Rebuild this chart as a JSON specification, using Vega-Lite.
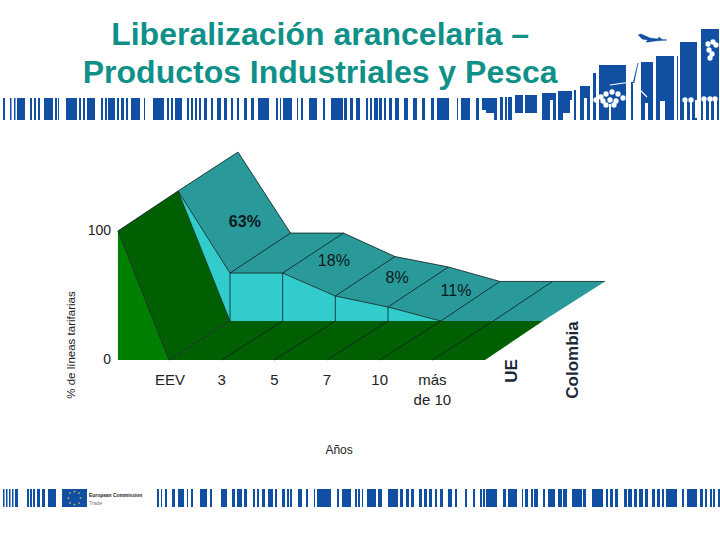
{
  "$schema": "https://vega.github.io/schema/vega-lite/v6.json",
  "width": 720,
  "height": 540,
  "padding": 0,
  "autosize": {"type": "fit", "contains": "padding"},
  "background": "white",
  "config": {"view": {"stroke": null}},
  "resolve": {"scale": {"x": "independent", "y": "independent"}},
  "datasets": {
    "faces": [
      {"face": "g1", "kind": "green", "n": 1, "x": 0.03, "y": 100},
      {"face": "g1", "kind": "green", "n": 2, "x": 1, "y": 0},
      {"face": "g1", "kind": "green", "n": 3, "x": 0.03, "y": 0},
      {"face": "d1", "kind": "dark", "n": 1, "x": 0.03, "y": 100},
      {"face": "d1", "kind": "dark", "n": 2, "x": 1.171, "y": 131},
      {"face": "d1", "kind": "dark", "n": 3, "x": 2.158, "y": 30.2},
      {"face": "d1", "kind": "dark", "n": 4, "x": 1, "y": 0},
      {"face": "d2", "kind": "dark", "n": 1, "x": 1, "y": 0},
      {"face": "d2", "kind": "dark", "n": 2, "x": 2.158, "y": 30.2},
      {"face": "d2", "kind": "dark", "n": 3, "x": 8.1, "y": 30.2},
      {"face": "d2", "kind": "dark", "n": 4, "x": 7, "y": 0},
      {"face": "c1", "kind": "cyan", "n": 1, "x": 1.171, "y": 131},
      {"face": "c1", "kind": "cyan", "n": 2, "x": 2.158, "y": 67.4},
      {"face": "c1", "kind": "cyan", "n": 3, "x": 3.158, "y": 67.4},
      {"face": "c1", "kind": "cyan", "n": 4, "x": 4.158, "y": 49.6},
      {"face": "c1", "kind": "cyan", "n": 5, "x": 5.158, "y": 41.1},
      {"face": "c1", "kind": "cyan", "n": 6, "x": 6.158, "y": 30.2},
      {"face": "c1", "kind": "cyan", "n": 7, "x": 2.158, "y": 30.2},
      {"face": "t1", "kind": "teal", "n": 1, "x": 1.171, "y": 131},
      {"face": "t1", "kind": "teal", "n": 2, "x": 2.31, "y": 161.2},
      {"face": "t1", "kind": "teal", "n": 3, "x": 3.307, "y": 98.4},
      {"face": "t1", "kind": "teal", "n": 4, "x": 4.313, "y": 98.4},
      {"face": "t1", "kind": "teal", "n": 5, "x": 5.291, "y": 80.2},
      {"face": "t1", "kind": "teal", "n": 6, "x": 6.307, "y": 72.1},
      {"face": "t1", "kind": "teal", "n": 7, "x": 7.284, "y": 60.9},
      {"face": "t1", "kind": "teal", "n": 8, "x": 9.278, "y": 60.9},
      {"face": "t1", "kind": "teal", "n": 9, "x": 8.1, "y": 30.2},
      {"face": "t1", "kind": "teal", "n": 10, "x": 6.158, "y": 30.2},
      {"face": "t1", "kind": "teal", "n": 11, "x": 5.158, "y": 41.1},
      {"face": "t1", "kind": "teal", "n": 12, "x": 4.158, "y": 49.6},
      {"face": "t1", "kind": "teal", "n": 13, "x": 3.158, "y": 67.4},
      {"face": "t1", "kind": "teal", "n": 14, "x": 2.158, "y": 67.4}
    ],
    "edges": [
      {"edge": "top", "n": 1, "x": 0.03, "y": 100},
      {"edge": "top", "n": 2, "x": 1.171, "y": 131},
      {"edge": "top", "n": 3, "x": 2.31, "y": 161.2},
      {"edge": "top", "n": 4, "x": 3.307, "y": 98.4},
      {"edge": "top", "n": 5, "x": 4.313, "y": 98.4},
      {"edge": "top", "n": 6, "x": 5.291, "y": 80.2},
      {"edge": "top", "n": 7, "x": 6.307, "y": 72.1},
      {"edge": "top", "n": 8, "x": 7.284, "y": 60.9},
      {"edge": "top", "n": 9, "x": 9.278, "y": 60.9},
      {"edge": "left", "n": 1, "x": 0.03, "y": 100},
      {"edge": "left", "n": 2, "x": 1, "y": 0},
      {"edge": "a", "n": 1, "x": 1.171, "y": 131},
      {"edge": "a", "n": 2, "x": 2.158, "y": 30.2},
      {"edge": "b", "n": 1, "x": 1.171, "y": 131},
      {"edge": "b", "n": 2, "x": 2.158, "y": 67.4},
      {"edge": "b", "n": 3, "x": 3.158, "y": 67.4},
      {"edge": "b", "n": 4, "x": 4.158, "y": 49.6},
      {"edge": "b", "n": 5, "x": 5.158, "y": 41.1},
      {"edge": "b", "n": 6, "x": 6.158, "y": 30.2},
      {"edge": "v1", "n": 1, "x": 2.158, "y": 67.4},
      {"edge": "v1", "n": 2, "x": 2.158, "y": 30.2},
      {"edge": "v2", "n": 1, "x": 3.158, "y": 67.4},
      {"edge": "v2", "n": 2, "x": 3.158, "y": 30.2},
      {"edge": "v3", "n": 1, "x": 4.158, "y": 49.6},
      {"edge": "v3", "n": 2, "x": 4.158, "y": 30.2},
      {"edge": "v4", "n": 1, "x": 5.158, "y": 41.1},
      {"edge": "v4", "n": 2, "x": 5.158, "y": 30.2},
      {"edge": "s1", "n": 1, "x": 2.158, "y": 67.4},
      {"edge": "s1", "n": 2, "x": 3.307, "y": 98.4},
      {"edge": "s2", "n": 1, "x": 3.158, "y": 67.4},
      {"edge": "s2", "n": 2, "x": 4.313, "y": 98.4},
      {"edge": "s3", "n": 1, "x": 4.158, "y": 49.6},
      {"edge": "s3", "n": 2, "x": 5.291, "y": 80.2},
      {"edge": "s4", "n": 1, "x": 5.158, "y": 41.1},
      {"edge": "s4", "n": 2, "x": 6.307, "y": 72.1},
      {"edge": "s5", "n": 1, "x": 6.158, "y": 30.2},
      {"edge": "s5", "n": 2, "x": 7.284, "y": 60.9},
      {"edge": "s6", "n": 1, "x": 7.158, "y": 30.2},
      {"edge": "s6", "n": 2, "x": 8.281, "y": 60.9},
      {"edge": "f1", "n": 1, "x": 1, "y": 0},
      {"edge": "f1", "n": 2, "x": 2.158, "y": 30.2},
      {"edge": "f2", "n": 1, "x": 2, "y": 0},
      {"edge": "f2", "n": 2, "x": 3.158, "y": 30.2},
      {"edge": "f3", "n": 1, "x": 3, "y": 0},
      {"edge": "f3", "n": 2, "x": 4.158, "y": 30.2},
      {"edge": "f4", "n": 1, "x": 4, "y": 0},
      {"edge": "f4", "n": 2, "x": 5.158, "y": 30.2},
      {"edge": "f5", "n": 1, "x": 5, "y": 0},
      {"edge": "f5", "n": 2, "x": 6.158, "y": 30.2},
      {"edge": "f6", "n": 1, "x": 6, "y": 0},
      {"edge": "f6", "n": 2, "x": 7.158, "y": 30.2}
    ],
    "topBars": [
      {"a": 3, "b": 5, "top": 98}, {"a": 10, "b": 11.5, "top": 98}, {"a": 14, "b": 15.5, "top": 98}, {"a": 17, "b": 25, "top": 98}, {"a": 30, "b": 32, "top": 98}, {"a": 34, "b": 36, "top": 98}, {"a": 38, "b": 40, "top": 98}, {"a": 44, "b": 53, "top": 98}, {"a": 55, "b": 57, "top": 98}, {"a": 58, "b": 59, "top": 98},
      {"a": 66, "b": 77, "top": 98}, {"a": 79, "b": 81, "top": 98}, {"a": 83, "b": 85, "top": 98}, {"a": 87, "b": 95, "top": 98}, {"a": 101, "b": 103, "top": 98}, {"a": 105, "b": 107, "top": 98}, {"a": 108, "b": 115, "top": 98}, {"a": 117, "b": 119, "top": 98}, {"a": 121, "b": 124, "top": 98}, {"a": 126, "b": 128, "top": 98},
      {"a": 131, "b": 140, "top": 98}, {"a": 144, "b": 145, "top": 98}, {"a": 153, "b": 164, "top": 98}, {"a": 167, "b": 169, "top": 98}, {"a": 171, "b": 173, "top": 98}, {"a": 175, "b": 182, "top": 98}, {"a": 187, "b": 189, "top": 98}, {"a": 191, "b": 193, "top": 98}, {"a": 195, "b": 197, "top": 98}, {"a": 199, "b": 201, "top": 98},
      {"a": 204, "b": 207, "top": 98}, {"a": 211, "b": 213, "top": 98}, {"a": 217, "b": 221, "top": 98}, {"a": 224, "b": 227, "top": 98}, {"a": 231, "b": 233, "top": 98}, {"a": 237, "b": 239, "top": 98}, {"a": 244, "b": 247, "top": 98}, {"a": 251, "b": 254, "top": 98}, {"a": 258, "b": 269, "top": 98}, {"a": 276, "b": 278, "top": 98},
      {"a": 280, "b": 281, "top": 98}, {"a": 283, "b": 292, "top": 98}, {"a": 297, "b": 298, "top": 98}, {"a": 301, "b": 303, "top": 98}, {"a": 309, "b": 317, "top": 98}, {"a": 323, "b": 325, "top": 98}, {"a": 331, "b": 343, "top": 98}, {"a": 344, "b": 347, "top": 98}, {"a": 350, "b": 353, "top": 98}, {"a": 356, "b": 360, "top": 98},
      {"a": 366, "b": 368, "top": 98}, {"a": 370, "b": 372, "top": 98}, {"a": 374, "b": 378, "top": 98}, {"a": 379, "b": 382, "top": 98}, {"a": 384, "b": 386, "top": 98}, {"a": 389, "b": 392, "top": 98}, {"a": 395, "b": 399, "top": 98}, {"a": 404, "b": 408, "top": 98}, {"a": 413, "b": 417, "top": 98}, {"a": 422, "b": 425, "top": 98},
      {"a": 431, "b": 434, "top": 98}, {"a": 437, "b": 449, "top": 98}, {"a": 457, "b": 458, "top": 98}, {"a": 461, "b": 470, "top": 98}, {"a": 476, "b": 479, "top": 98},
      {"a": 482, "b": 497, "top": 98}, {"a": 500, "b": 503, "top": 97}, {"a": 505, "b": 507, "top": 97}, {"a": 508, "b": 512, "top": 97}, {"a": 515, "b": 523, "top": 95}, {"a": 525, "b": 537, "top": 95}, {"a": 542, "b": 556, "top": 93}, {"a": 558, "b": 572, "top": 91}, {"a": 574, "b": 576, "top": 90}, {"a": 580, "b": 590, "top": 86},
      {"a": 593, "b": 596, "top": 73}, {"a": 599, "b": 626, "top": 65}, {"a": 631, "b": 633, "top": 82}, {"a": 641, "b": 653, "top": 62}, {"a": 656, "b": 674, "top": 56}, {"a": 677, "b": 678, "top": 56}, {"a": 680, "b": 697, "top": 42}, {"a": 701, "b": 719, "top": 29}
    ],
    "bottomBars": [
      {"a": 3, "b": 4.5, "top": 489}, {"a": 6, "b": 7.5, "top": 489}, {"a": 9, "b": 10.5, "top": 489}, {"a": 12, "b": 13.5, "top": 489}, {"a": 15, "b": 18, "top": 489}, {"a": 27, "b": 29, "top": 489}, {"a": 30, "b": 32, "top": 489}, {"a": 33, "b": 35, "top": 489}, {"a": 37, "b": 40, "top": 489}, {"a": 42, "b": 45, "top": 489}, {"a": 48, "b": 56, "top": 489},
      {"a": 62, "b": 87, "top": 489}, {"a": 157, "b": 159, "top": 489}, {"a": 161, "b": 162, "top": 489}, {"a": 165, "b": 167, "top": 489}, {"a": 172, "b": 175, "top": 489}, {"a": 178, "b": 184, "top": 489}, {"a": 187, "b": 188, "top": 489}, {"a": 191, "b": 193, "top": 489}, {"a": 200, "b": 207, "top": 489}, {"a": 210, "b": 212, "top": 489}, {"a": 221, "b": 227, "top": 489}, {"a": 232, "b": 235, "top": 489}, {"a": 237, "b": 242, "top": 489},
      {"a": 244, "b": 247, "top": 489}, {"a": 253, "b": 255, "top": 489}, {"a": 257, "b": 259, "top": 489}, {"a": 262, "b": 265, "top": 489}, {"a": 268, "b": 273, "top": 489}, {"a": 275, "b": 277, "top": 489}, {"a": 282, "b": 285, "top": 489}, {"a": 287, "b": 289, "top": 489}, {"a": 290, "b": 292, "top": 489}, {"a": 298, "b": 302, "top": 489}, {"a": 306, "b": 308, "top": 489}, {"a": 314, "b": 315, "top": 489}, {"a": 317, "b": 331, "top": 489},
      {"a": 337, "b": 339, "top": 489}, {"a": 342, "b": 351, "top": 489}, {"a": 355, "b": 357, "top": 489}, {"a": 358, "b": 360, "top": 489}, {"a": 362, "b": 363, "top": 489}, {"a": 367, "b": 376, "top": 489}, {"a": 378, "b": 382, "top": 489}, {"a": 388, "b": 398, "top": 489}, {"a": 400, "b": 403, "top": 489}, {"a": 406, "b": 409, "top": 489}, {"a": 411, "b": 414, "top": 489}, {"a": 419, "b": 422, "top": 489}, {"a": 424, "b": 427, "top": 489},
      {"a": 429, "b": 432, "top": 489}, {"a": 435, "b": 437, "top": 489}, {"a": 440, "b": 443, "top": 489}, {"a": 448, "b": 452, "top": 489}, {"a": 455, "b": 457, "top": 489}, {"a": 465, "b": 467, "top": 489}, {"a": 473, "b": 475, "top": 489}, {"a": 480, "b": 482, "top": 489}, {"a": 483, "b": 485, "top": 489}, {"a": 486, "b": 497, "top": 489}, {"a": 503, "b": 506, "top": 489}, {"a": 508, "b": 517, "top": 489}, {"a": 522, "b": 523, "top": 489},
      {"a": 525, "b": 528, "top": 489}, {"a": 531, "b": 533, "top": 489}, {"a": 534, "b": 538, "top": 489}, {"a": 543, "b": 545, "top": 489}, {"a": 548, "b": 555, "top": 489}, {"a": 558, "b": 562, "top": 489}, {"a": 563, "b": 567, "top": 489}, {"a": 572, "b": 582, "top": 489}, {"a": 583, "b": 586, "top": 489}, {"a": 592, "b": 603, "top": 489}, {"a": 606, "b": 608, "top": 489}, {"a": 610, "b": 613, "top": 489}, {"a": 615, "b": 618, "top": 489},
      {"a": 624, "b": 627, "top": 489}, {"a": 628, "b": 632, "top": 489}, {"a": 634, "b": 637, "top": 489}, {"a": 639, "b": 643, "top": 489}, {"a": 645, "b": 648, "top": 489}, {"a": 652, "b": 655, "top": 489}, {"a": 657, "b": 660, "top": 489}, {"a": 662, "b": 664, "top": 489}, {"a": 666, "b": 677, "top": 489}, {"a": 682, "b": 684, "top": 489}, {"a": 687, "b": 697, "top": 489}, {"a": 700, "b": 703, "top": 489}, {"a": 705, "b": 707, "top": 489}, {"a": 710, "b": 712, "top": 489}, {"a": 713, "b": 715, "top": 489}, {"a": 718, "b": 720, "top": 489}
    ],
    "cutouts": [
      {"a": 482, "b": 486, "top": 110, "bottom": 120}, {"a": 486, "b": 494, "top": 113, "bottom": 120}, {"a": 515, "b": 537, "top": 113, "bottom": 120},
      {"a": 570, "b": 574, "top": 100, "bottom": 120}, {"a": 550, "b": 553, "top": 100, "bottom": 120}, {"a": 563, "b": 571, "top": 113, "bottom": 120},
      {"a": 584, "b": 587, "top": 98, "bottom": 120}, {"a": 609, "b": 611, "top": 104, "bottom": 120}, {"a": 645, "b": 648, "top": 103, "bottom": 120}, {"a": 660, "b": 665, "top": 101, "bottom": 120},
      {"a": 684, "b": 687, "top": 100, "bottom": 120}, {"a": 690, "b": 692, "top": 100, "bottom": 120}, {"a": 695, "b": 699, "top": 100, "bottom": 118}, {"a": 703, "b": 706, "top": 100, "bottom": 120}, {"a": 709, "b": 711, "top": 100, "bottom": 120}, {"a": 714, "b": 717, "top": 100, "bottom": 120}
    ],
    "blobs": [
      {"a": 596, "y": 100}, {"a": 601, "y": 97}, {"a": 606, "y": 94}, {"a": 612, "y": 92}, {"a": 618, "y": 94}, {"a": 623, "y": 98}, {"a": 603, "y": 101}, {"a": 610, "y": 100}, {"a": 616, "y": 101}, {"a": 606, "y": 105}, {"a": 614, "y": 105},
      {"a": 708, "y": 44}, {"a": 713, "y": 42}, {"a": 716, "y": 45}, {"a": 709, "y": 50}, {"a": 712, "y": 54}, {"a": 710, "y": 58},
      {"a": 685, "y": 100}, {"a": 691, "y": 100}, {"a": 704, "y": 99}, {"a": 710, "y": 99}, {"a": 715, "y": 99}
    ],
    "plane": [
      {"n": 1, "a": 638, "y": 35}, {"n": 2, "a": 641, "y": 34}, {"n": 3, "a": 650, "y": 38}, {"n": 4, "a": 658, "y": 39}, {"n": 5, "a": 659, "y": 37}, {"n": 6, "a": 662, "y": 39.5}, {"n": 7, "a": 667, "y": 40}, {"n": 8, "a": 655, "y": 41}, {"n": 9, "a": 648, "y": 42}, {"n": 10, "a": 646, "y": 42}, {"n": 11, "a": 648, "y": 40}, {"n": 12, "a": 642, "y": 39}
    ],
    "turbine": [
      {"n": 1, "a": 633, "y": 83}, {"n": 2, "a": 638, "y": 63}, {"n": 3, "a": 634, "y": 83}
    ],
    "blades": [
      {"blade": "l", "n": 1, "a": 610, "y": 85}, {"blade": "l", "n": 2, "a": 631, "y": 82},
      {"blade": "r", "n": 1, "a": 633, "y": 83}, {"blade": "r", "n": 2, "a": 647, "y": 97}
    ],
    "flagStars": [
      {"a": 74.5, "y": 491.5}, {"a": 79, "y": 493}, {"a": 80.5, "y": 498}, {"a": 79, "y": 503}, {"a": 74.5, "y": 504.5}, {"a": 70, "y": 503}, {"a": 68.5, "y": 498}, {"a": 70, "y": 493}
    ]
  },
  "layer": [
    {
      "encoding": {
        "x": {"field": "a", "type": "quantitative", "axis": null, "scale": {"domain": [0, 720], "nice": false, "zero": false}},
        "y": {"field": "y", "type": "quantitative", "axis": null, "scale": {"domain": [540, 0], "nice": false, "zero": false}}
      },
      "layer": [
        {
          "data": {"name": "topBars"},
          "mark": {"type": "rect", "color": "#114fa3"},
          "encoding": {
            "x2": {"field": "b"},
            "y": {"field": "top", "type": "quantitative"},
            "y2": {"datum": 120}
          }
        },
        {
          "data": {"name": "bottomBars"},
          "mark": {"type": "rect", "color": "#114fa3"},
          "encoding": {
            "x2": {"field": "b"},
            "y": {"field": "top", "type": "quantitative"},
            "y2": {"datum": 507}
          }
        },
        {
          "data": {"name": "cutouts"},
          "mark": {"type": "rect", "color": "white"},
          "encoding": {
            "x2": {"field": "b"},
            "y": {"field": "top", "type": "quantitative"},
            "y2": {"field": "bottom"}
          }
        },
        {
          "data": {"name": "blobs"},
          "mark": {"type": "circle", "color": "white", "opacity": 1, "size": 28}
        },
        {
          "data": {"name": "blades"},
          "mark": {"type": "line", "color": "white", "strokeWidth": 1.2},
          "encoding": {"order": {"field": "n"}, "detail": {"field": "blade"}}
        },
        {
          "data": {"name": "plane"},
          "mark": {"type": "line", "fill": "#114fa3", "stroke": "#114fa3", "strokeWidth": 0.5},
          "encoding": {"order": {"field": "n"}}
        },
        {
          "data": {"name": "turbine"},
          "mark": {"type": "line", "fill": "#114fa3", "stroke": "#114fa3", "strokeWidth": 0.5},
          "encoding": {"order": {"field": "n"}}
        },
        {
          "data": {"name": "flagStars"},
          "mark": {"type": "circle", "color": "#d8c84a", "opacity": 1, "size": 3}
        },
        {
          "data": {"values": [{"a": 89, "y": 496, "label": "European Commission"}]},
          "mark": {"type": "text", "font": "Liberation Sans", "fontSize": 4.9, "fontWeight": "bold", "align": "left", "baseline": "middle", "color": "#222222"},
          "encoding": {"text": {"field": "label"}}
        },
        {
          "data": {"values": [{"a": 89, "y": 503, "label": "Trade"}]},
          "mark": {"type": "text", "font": "Liberation Sans", "fontSize": 5.2, "align": "left", "baseline": "middle", "color": "#777777"},
          "encoding": {"text": {"field": "label"}}
        }
      ]
    },
    {
      "encoding": {
        "x": {"field": "x", "type": "quantitative", "axis": null, "scale": {"domain": [-2.209, 11.462], "nice": false, "zero": false}},
        "y": {"field": "y", "type": "quantitative", "axis": null, "scale": {"domain": [-139.53, 279.07], "nice": false, "zero": false}}
      },
      "layer": [
        {
          "data": {"name": "faces"},
          "transform": [{"filter": "datum.kind === 'green'"}],
          "mark": {"type": "line", "fill": "#008000", "stroke": null},
          "encoding": {"order": {"field": "n"}, "detail": {"field": "face"}}
        },
        {
          "data": {"name": "faces"},
          "transform": [{"filter": "datum.kind === 'dark'"}],
          "mark": {"type": "line", "fill": "#005f00", "stroke": null},
          "encoding": {"order": {"field": "n"}, "detail": {"field": "face"}}
        },
        {
          "data": {"name": "faces"},
          "transform": [{"filter": "datum.kind === 'cyan'"}],
          "mark": {"type": "line", "fill": "#33cccc", "stroke": null},
          "encoding": {"order": {"field": "n"}, "detail": {"field": "face"}}
        },
        {
          "data": {"name": "faces"},
          "transform": [{"filter": "datum.kind === 'teal'"}],
          "mark": {"type": "line", "fill": "#2a9999", "stroke": null},
          "encoding": {"order": {"field": "n"}, "detail": {"field": "face"}}
        },
        {
          "data": {"name": "edges"},
          "mark": {"type": "line", "color": "#0a2020", "strokeWidth": 0.8},
          "encoding": {"order": {"field": "n"}, "detail": {"field": "edge"}}
        },
        {
          "data": {"values": [
            {"x": 3.87, "y": 252, "label": "Liberalización arancelaria –"},
            {"x": 3.87, "y": 222.5, "label": "Productos Industriales y Pesca"}
          ]},
          "mark": {"type": "text", "font": "Liberation Sans", "fontSize": 32, "fontWeight": "bold", "align": "center", "baseline": "middle", "color": "#0f9189"},
          "encoding": {"text": {"field": "label"}}
        },
        {
          "data": {"values": [
            {"x": -0.1, "y": 100, "label": "100"},
            {"x": -0.1, "y": 0, "label": "0"}
          ]},
          "mark": {"type": "text", "font": "Liberation Sans", "fontSize": 14, "align": "right", "baseline": "middle", "color": "#222222"},
          "encoding": {"text": {"field": "label"}}
        },
        {
          "data": {"values": [
            {"x": 1.02, "y": -15.5, "label": "EEV"},
            {"x": 2, "y": -15.5, "label": "3"},
            {"x": 3, "y": -15.5, "label": "5"},
            {"x": 4, "y": -15.5, "label": "7"},
            {"x": 5, "y": -15.5, "label": "10"},
            {"x": 6, "y": -15.5, "label": "más"},
            {"x": 6, "y": -31, "label": "de 10"}
          ]},
          "mark": {"type": "text", "font": "Liberation Sans", "fontSize": 15, "align": "center", "baseline": "middle", "color": "#222222"},
          "encoding": {"text": {"field": "label"}}
        },
        {
          "data": {"values": [{"x": 4.23, "y": -69.8, "label": "Años"}]},
          "mark": {"type": "text", "font": "Liberation Sans", "fontSize": 12, "align": "center", "baseline": "middle", "color": "#222222"},
          "encoding": {"text": {"field": "label"}}
        },
        {
          "data": {"values": [{"x": -0.84, "y": 11.6, "label": "% de líneas tarifarias"}]},
          "mark": {"type": "text", "font": "Liberation Sans", "fontSize": 11.5, "angle": 270, "align": "center", "baseline": "middle", "color": "#222222"},
          "encoding": {"text": {"field": "label"}}
        },
        {
          "data": {"values": [
            {"x": 7.51, "y": -8.5, "label": "UE"},
            {"x": 8.67, "y": 0, "label": "Colombia"}
          ]},
          "mark": {"type": "text", "font": "Liberation Sans", "fontSize": 17, "fontWeight": "bold", "angle": 270, "align": "center", "baseline": "middle", "color": "#1a2a3a"},
          "encoding": {"text": {"field": "label"}}
        },
        {
          "data": {"values": [{"x": 2.44, "y": 107, "label": "63%"}]},
          "mark": {"type": "text", "font": "Liberation Sans", "fontSize": 16, "fontWeight": "bold", "align": "center", "baseline": "middle", "color": "#0a1a1a"},
          "encoding": {"text": {"field": "label"}}
        },
        {
          "data": {"values": [
            {"x": 4.13, "y": 76.7, "label": "18%"},
            {"x": 5.33, "y": 63.6, "label": "8%"},
            {"x": 6.45, "y": 53.5, "label": "11%"}
          ]},
          "mark": {"type": "text", "font": "Liberation Sans", "fontSize": 16, "align": "center", "baseline": "middle", "color": "#0a1a1a"},
          "encoding": {"text": {"field": "label"}}
        }
      ]
    }
  ]
}
